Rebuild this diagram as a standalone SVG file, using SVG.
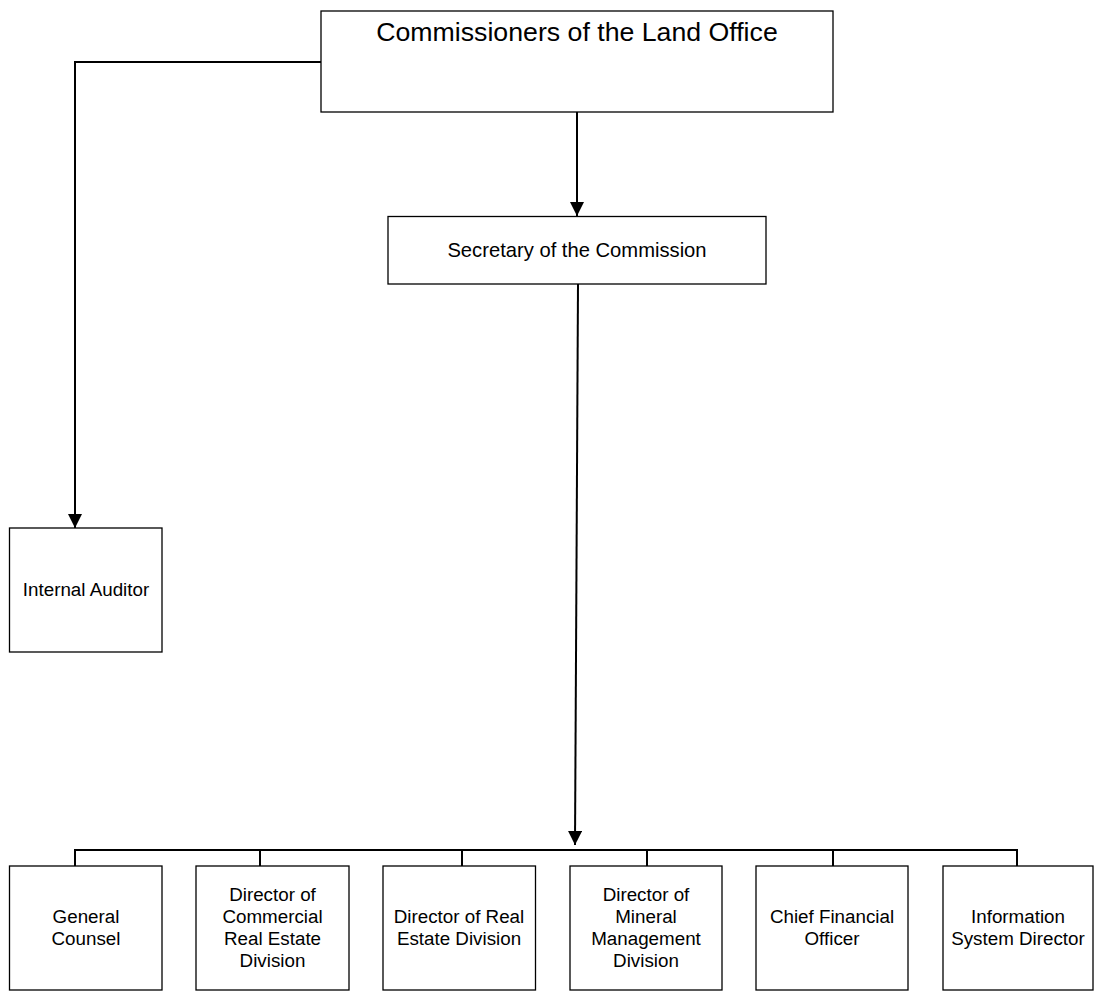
<svg xmlns="http://www.w3.org/2000/svg" width="1097" height="992" viewBox="0 0 1097 992">
  <style>
    .box { fill: #fff; stroke: #000; stroke-width: 1.3; }
    .conn { fill: none; stroke: #000; stroke-width: 2; }
    text { font-family: "Liberation Sans", Arial, sans-serif; fill: #000; text-anchor: middle; }
    .t1 { font-size: 26.7px; }
    .t2 { font-size: 20.2px; }
    .t3 { font-size: 18.8px; }
  </style>
  <defs>
    <marker id="arrow" markerUnits="userSpaceOnUse" markerWidth="14" markerHeight="14" viewBox="0 0 14 14" refX="14" refY="7" orient="auto">
      <path d="M0,0 L14,7 L0,14 Z" fill="#000"/>
    </marker>
  </defs>
  <rect width="1097" height="992" fill="#fff"/>
  <g id="connectors">
    <path class="conn" d="M321,62 H75 V528" marker-end="url(#arrow)"/>
    <path class="conn" d="M577,112 V216" marker-end="url(#arrow)"/>
    <path class="conn" d="M578,284 L575,845" marker-end="url(#arrow)"/>
    <path class="conn" d="M75,866 V850 H1017 V866"/>
    <path class="conn" d="M260,850 V866 M462,850 V866 M647,850 V866 M833,850 V866"/>
  </g>
  <g id="commissioners">
    <rect class="box" x="321" y="11" width="512" height="101"/>
    <text class="t1" x="577" y="41">Commissioners of the Land Office</text>
  </g>
  <g id="secretary">
    <rect class="box" x="388" y="216.5" width="378" height="67.5"/>
    <text class="t2" x="577" y="257">Secretary of the Commission</text>
  </g>
  <g id="internal-auditor">
    <rect class="box" x="9.5" y="528" width="152.5" height="124"/>
    <text class="t3" x="86" y="596">Internal Auditor</text>
  </g>
  <g id="general-counsel">
    <rect class="box" x="9.5" y="866" width="152.5" height="124"/>
    <text class="t3" x="86" y="923">General</text>
    <text class="t3" x="86" y="945">Counsel</text>
  </g>
  <g id="commercial-real-estate">
    <rect class="box" x="196" y="866" width="153" height="124"/>
    <text class="t3" x="272.5" y="901">Director of</text>
    <text class="t3" x="272.5" y="923">Commercial</text>
    <text class="t3" x="272.5" y="945">Real Estate</text>
    <text class="t3" x="272.5" y="967">Division</text>
  </g>
  <g id="real-estate">
    <rect class="box" x="383" y="866" width="152.5" height="124"/>
    <text class="t3" x="459" y="923">Director of Real</text>
    <text class="t3" x="459" y="945">Estate Division</text>
  </g>
  <g id="mineral-management">
    <rect class="box" x="570" y="866" width="152" height="124"/>
    <text class="t3" x="646" y="901">Director of</text>
    <text class="t3" x="646" y="923">Mineral</text>
    <text class="t3" x="646" y="945">Management</text>
    <text class="t3" x="646" y="967">Division</text>
  </g>
  <g id="cfo">
    <rect class="box" x="756" y="866" width="152" height="124"/>
    <text class="t3" x="832" y="923">Chief Financial</text>
    <text class="t3" x="832" y="945">Officer</text>
  </g>
  <g id="information-system">
    <rect class="box" x="943" y="866" width="150" height="124"/>
    <text class="t3" x="1018" y="923">Information</text>
    <text class="t3" x="1018" y="945">System Director</text>
  </g>
</svg>
